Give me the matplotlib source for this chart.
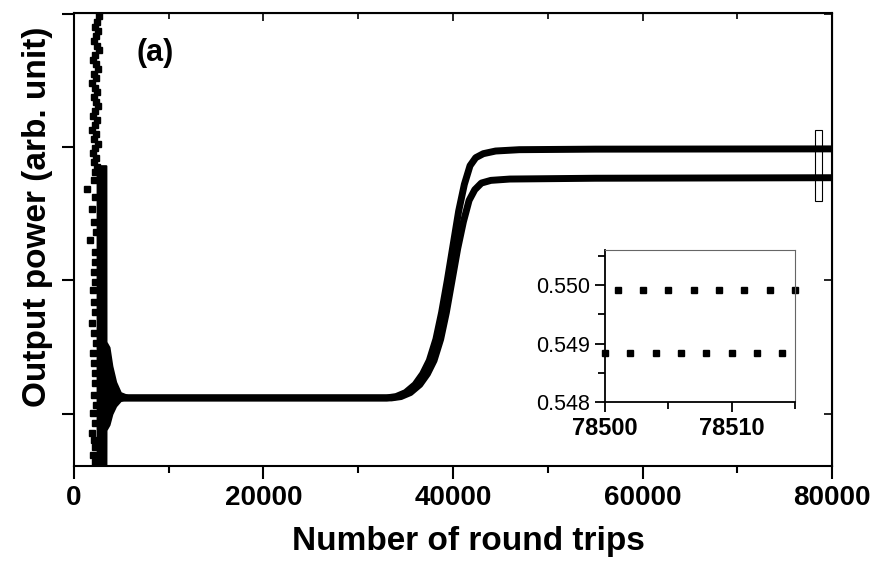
import numpy as np
import matplotlib
matplotlib.use("Agg")
import matplotlib.pyplot as plt
from matplotlib.patches import Rectangle
from matplotlib.ticker import MultipleLocator, NullFormatter

plt.rcParams['font.family'] = ['Liberation Sans', 'DejaVu Sans']

# ---- data ----
# two branches after the transient (odd / even round trips)
upper_x = [4500, 20000, 33000, 34000, 35000, 36000, 36800, 37500, 38200,
           38800, 39400, 40000, 40600, 41200, 41800, 42400, 43200, 44500,
           47000, 55000, 80000]
upper_y = [0.5406, 0.5406, 0.5406, 0.54065, 0.5408, 0.5411, 0.5415, 0.5420,
           0.5428, 0.5438, 0.5450, 0.5463, 0.5476, 0.5486, 0.5493, 0.5496,
           0.54975, 0.54985, 0.5499, 0.54992, 0.54993]
lower_x = [4500, 20000, 33500, 34500, 35500, 36500, 37300, 38000, 38700,
           39300, 39900, 40500, 41100, 41700, 42300, 43000, 44000, 46000,
           55000, 80000]
lower_y = [0.5406, 0.5406, 0.5406, 0.54065, 0.5408, 0.5411, 0.5415, 0.5420,
           0.5428, 0.5438, 0.5450, 0.5462, 0.5472, 0.5480, 0.5484, 0.54865,
           0.54875, 0.5488, 0.54883, 0.54885]

# scattered points of the early (chaotic) transient
trans_x = [2632, 2421, 2210, 2526, 2316, 2105, 2421, 2632, 2210, 2000,
           2316, 2526, 2105, 2316, 1895, 2210, 2421, 2105, 2316, 2526,
           2210, 2000, 2421, 2210, 1895, 2316, 2105, 2526, 2210, 2000,
           2316, 2105, 2421, 2210,
           2105, 1368, 2210, 1895, 2105, 2316, 1684, 2210, 2210, 2105,
           2210, 2000, 2105, 2210, 1895, 2105, 2316, 2000, 2105, 2210,
           2210, 2105, 2316, 2000, 2210, 1895, 2105, 2210, 2000, 2210]
trans_y = [0.55491, 0.55468, 0.55449, 0.55434, 0.55416, 0.55397, 0.55378,
           0.55363, 0.55345, 0.55326, 0.55311, 0.55292, 0.55273, 0.55258,
           0.55240, 0.55221, 0.55206, 0.55187, 0.55169, 0.55154, 0.55135,
           0.55116, 0.55101, 0.55082, 0.55064, 0.55049, 0.55030, 0.55011,
           0.54996, 0.54978, 0.54959, 0.54944, 0.54925, 0.54906,
           0.54876, 0.54843, 0.54813, 0.54768, 0.54719, 0.54682, 0.54652,
           0.54607, 0.54569, 0.54532, 0.54494, 0.54464, 0.54420, 0.54382,
           0.54341, 0.54303, 0.54266, 0.54229, 0.54191, 0.54154, 0.54116,
           0.54071, 0.54034, 0.54004, 0.53966, 0.53929, 0.53903, 0.53876,
           0.53846, 0.53820]

# envelope of the dense decaying oscillation
env_x = [2450, 3370, 3380, 3700, 4000, 4400, 4900, 5600]
env_hi = [0.5493, 0.5493, 0.5427, 0.5425, 0.5418, 0.5412, 0.5408, 0.5407]
env_lo = [0.5375, 0.5375, 0.5394, 0.5396, 0.5400, 0.5403, 0.5405, 0.5406]

# inset: last round trips alternate between two levels
inset_up_x = [78501, 78503, 78505, 78507, 78509, 78511, 78513, 78515]
inset_up_y = [0.54991] * 8
inset_lo_x = [78500, 78502, 78504, 78506, 78508, 78510, 78512, 78514]
inset_lo_y = [0.54883] * 8

fig = plt.figure(figsize=(8.8, 5.66), dpi=100)
ax = fig.add_axes([0.084, 0.1767, 0.8615, 0.8003])

ax.plot(upper_x, upper_y, color='black', lw=5, solid_capstyle='butt')
ax.plot(lower_x, lower_y, color='black', lw=5, solid_capstyle='butt')
ax.fill_between(env_x, env_lo, env_hi, color='black', lw=1.5)
ax.plot(trans_x, trans_y, ls='none', marker='s', ms=4.2, color='black')

# box marking the zoomed region
ax.add_patch(Rectangle((78200, 0.54798), 750, 0.00266, fill=False,
                       ec='black', lw=0.8, zorder=5))

ax.set_xlim(0, 80000)
ax.set_ylim(0.53805, 0.55502)
ax.xaxis.set_major_locator(MultipleLocator(20000))
ax.xaxis.set_minor_locator(MultipleLocator(10000))
ax.set_yticks([0.540, 0.545, 0.550, 0.555])
ax.yaxis.set_major_formatter(NullFormatter())
ax.tick_params(which='major', direction='out', length=9, width=1.5,
               labelsize=20, pad=5, top=False, right=False)
ax.tick_params(which='minor', direction='out', length=5, width=1.5,
               top=False, right=False)
for lab in ax.get_xticklabels():
    lab.set_fontweight('bold')
for sp in ax.spines.values():
    sp.set_linewidth(1.5)

# mirrored inward ticks on top and right
top = ax.secondary_xaxis('top')
top.xaxis.set_major_locator(MultipleLocator(20000))
top.xaxis.set_minor_locator(MultipleLocator(10000))
top.tick_params(which='both', direction='in', labeltop=False, width=1.2)
top.tick_params(which='major', length=6)
top.tick_params(which='minor', length=4)
right = ax.secondary_yaxis('right')
right.set_yticks([0.540, 0.545, 0.550, 0.555])
right.tick_params(direction='in', labelright=False, length=6, width=1.2)

ax.set_xlabel('Number of round trips', fontsize=24, fontweight='bold')
ax.xaxis.set_label_coords(0.521, -0.133)
ax.set_ylabel('Output power (arb. unit)', fontsize=24, fontweight='bold')
ax.yaxis.set_label_coords(-0.028, 0.55)
ax.text(0.082, 0.945, '(a)', transform=ax.transAxes, fontsize=22,
        fontweight='bold', va='top', ha='left')

# ---- inset ----
ins = fig.add_axes([0.6875, 0.2898, 0.2159, 0.2685])
ins.plot(inset_up_x, inset_up_y, ls='none', marker='s', ms=4,
         color='black', clip_on=False)
ins.plot(inset_lo_x, inset_lo_y, ls='none', marker='s', ms=4,
         color='black', clip_on=False)
ins.set_xlim(78500, 78515)
ins.set_ylim(0.548, 0.5506)
ins.set_xticks([78500, 78510])
ins.xaxis.set_minor_locator(MultipleLocator(5))
ins.set_yticks([0.548, 0.549, 0.550])
ins.yaxis.set_minor_locator(MultipleLocator(0.0005))
ins.set_yticklabels(['0.548', '0.549', '0.550'], fontsize=15.5)
ins.set_xticklabels(['78500', '78510'], fontsize=17, fontweight='bold')
ins.tick_params(which='major', direction='out', length=7, width=1.3,
                top=False, right=False)
ins.tick_params(which='minor', direction='out', length=5, width=1.3,
                top=False, right=False)
ins.spines['left'].set_linewidth(1.3)
ins.spines['bottom'].set_linewidth(1.3)
ins.spines['top'].set_color('#666666')
ins.spines['right'].set_color('#666666')
ins.spines['top'].set_linewidth(0.8)
ins.spines['right'].set_linewidth(0.8)

fig.savefig('out.png', dpi=100)
